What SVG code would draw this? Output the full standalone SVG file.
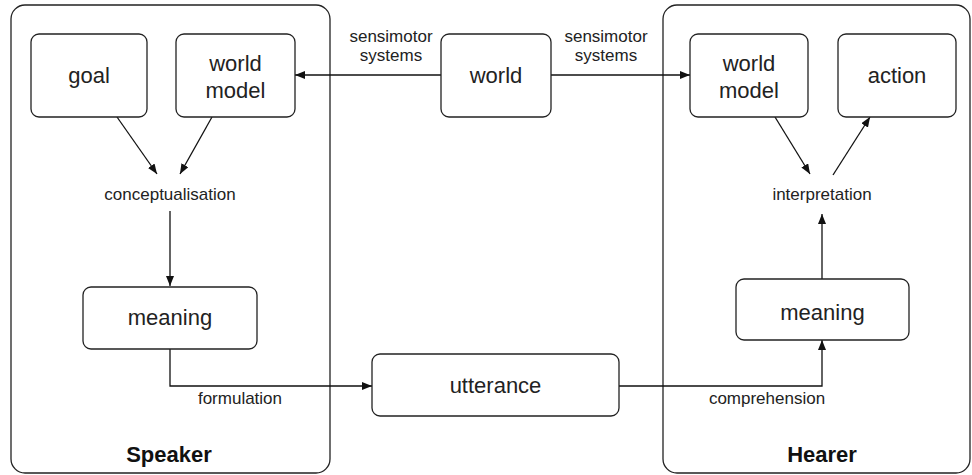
<svg xmlns="http://www.w3.org/2000/svg" width="972" height="475" viewBox="0 0 972 475">
<defs>
<marker id="ah" viewBox="0 0 10 8" refX="10" refY="4" markerWidth="10" markerHeight="8" markerUnits="userSpaceOnUse" orient="auto">
<path d="M0,0 L10,4 L0,8 Z" fill="#111"/>
</marker>
<style>
.box{fill:#fff;stroke:#222;stroke-width:1.3}
.frame{fill:#fff;stroke:#222;stroke-width:1.3}
.n{font-family:"Liberation Sans",Arial,sans-serif;font-size:22px;fill:#222;text-anchor:middle}
.l{font-family:"Liberation Sans",Arial,sans-serif;font-size:17px;fill:#222;text-anchor:middle}
.t{font-family:"Liberation Sans",Arial,sans-serif;font-size:22px;font-weight:bold;fill:#111;text-anchor:middle}
.c{fill:none;stroke:#111;stroke-width:1.3}
</style>
</defs>
<rect width="972" height="475" fill="#fff"/>
<g id="speaker">
<rect class="frame" x="11" y="5" width="319" height="468" rx="14"/>
<text class="t" x="169" y="462">Speaker</text>
</g>
<g id="hearer">
<rect class="frame" x="663" y="5" width="307" height="468" rx="14"/>
<text class="t" x="822" y="462">Hearer</text>
</g>
<g id="connectors">
<line class="c" x1="441" y1="75" x2="295" y2="75" marker-end="url(#ah)"/>
<line class="c" x1="551" y1="75" x2="690" y2="75" marker-end="url(#ah)"/>
<line class="c" x1="117" y1="117" x2="157" y2="174" marker-end="url(#ah)"/>
<line class="c" x1="212" y1="117" x2="180" y2="174" marker-end="url(#ah)"/>
<line class="c" x1="170" y1="211" x2="170" y2="286" marker-end="url(#ah)"/>
<path class="c" d="M170,349 V386 H372" marker-end="url(#ah)"/>
<path class="c" d="M619,386 H822 V340" marker-end="url(#ah)"/>
<line class="c" x1="822" y1="279" x2="822" y2="214" marker-end="url(#ah)"/>
<line class="c" x1="775" y1="117" x2="810" y2="174" marker-end="url(#ah)"/>
<line class="c" x1="833" y1="175" x2="870" y2="117" marker-end="url(#ah)"/>
<text class="l" x="391" y="42">sensimotor</text>
<text class="l" x="391" y="61">systems</text>
<text class="l" x="606" y="42">sensimotor</text>
<text class="l" x="606" y="61">systems</text>
<text class="l" x="170" y="200">conceptualisation</text>
<text class="l" x="822" y="200">interpretation</text>
<text class="l" x="240" y="404">formulation</text>
<text class="l" x="767" y="404">comprehension</text>
</g>
<g id="goal">
<rect class="box" x="31" y="34" width="116" height="83" rx="8"/>
<text class="n" x="89" y="83">goal</text>
</g>
<g id="speaker-world-model">
<rect class="box" x="176" y="34" width="119" height="83" rx="8"/>
<text class="n" x="235.5" y="71">world</text>
<text class="n" x="235.5" y="98">model</text>
</g>
<g id="world">
<rect class="box" x="441" y="34" width="110" height="83" rx="8"/>
<text class="n" x="496" y="83">world</text>
</g>
<g id="hearer-world-model">
<rect class="box" x="690" y="34" width="118" height="83" rx="8"/>
<text class="n" x="749" y="71">world</text>
<text class="n" x="749" y="98">model</text>
</g>
<g id="action">
<rect class="box" x="838" y="34" width="118" height="83" rx="8"/>
<text class="n" x="897" y="83">action</text>
</g>
<g id="speaker-meaning">
<rect class="box" x="83" y="287" width="174" height="62" rx="8"/>
<text class="n" x="170" y="325">meaning</text>
</g>
<g id="utterance">
<rect class="box" x="372" y="354" width="247" height="62" rx="8"/>
<text class="n" x="495.5" y="393">utterance</text>
</g>
<g id="hearer-meaning">
<rect class="box" x="736" y="279" width="173" height="61" rx="8"/>
<text class="n" x="822.5" y="320">meaning</text>
</g>
</svg>
